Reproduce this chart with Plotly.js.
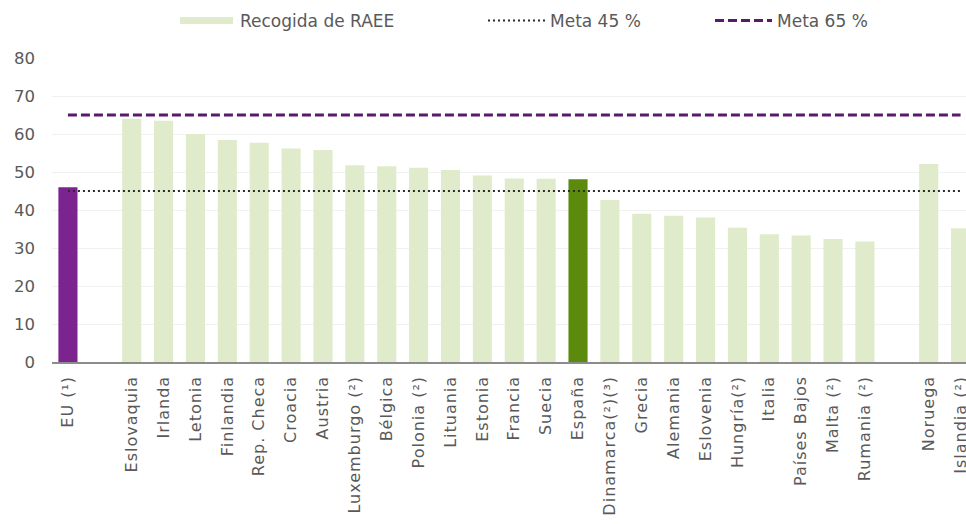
<!DOCTYPE html>
<html>
<head>
<meta charset="utf-8">
<script src="https://cdn.plot.ly/plotly-3.0.1.min.js"></script>
<style>
html,body{margin:0;padding:0;background:#fff;}
#chart{width:966px;height:524px;}
#chart .xtick text{letter-spacing:1px;}
</style>
</head>
<body>
<div id="chart"></div>
<script>
// ---- data ----
const categories = ["EU (¹)", " ", "Eslovaquia", "Irlanda", "Letonia", "Finlandia", "Rep. Checa", "Croacia", "Austria",
  "Luxemburgo (²)", "Bélgica", "Polonia (²)", "Lituania", "Estonia", "Francia", "Suecia", "España",
  "Dinamarca(²)(³)", "Grecia", "Alemania", "Eslovenia", "Hungría(²)", "Italia", "Países Bajos", "Malta (²)",
  "Rumania (²)", "  ", "Noruega", "Islandia (²)"];
const recogida = [46, null, 64, 63.5, 60, 58.4, 57.7, 56.2, 55.8,
  51.8, 51.5, 51.1, 50.5, 49.1, 48.3, 48.2, 48.1,
  42.6, 39, 38.5, 38, 35.3, 33.6, 33.3, 32.4,
  31.7, null, 52.1, 35.2];
const meta45 = [45, 45];
const meta65 = [65, 65];
const seriesNames = ["Recogida de RAEE", "Meta 45 %", "Meta 65 %"];
const yTicks = [0, 10, 20, 30, 40, 50, 60, 70, 80];

// ---- styling ----
const FONT = "DejaVu Sans";
const TXT = "#595959";
const LIGHT = "#e0ebcb";
const barColors = categories.map(c => c.startsWith("EU") ? "#7b2490" : (c === "España" ? "#5b8a0c" : LIGHT));
const lineX = [categories[0], categories[categories.length - 1]];

const W = 966, H = 524, ML = 52, MR = 0, MT = 58, MB = 162;
const px2x = p => (p - ML) / (W - ML - MR);
const py2y = p => (H - MB - p) / (H - MT - MB);

const traces = [
  {type: "bar", x: categories, y: recogida, width: 0.6, marker: {color: barColors}, showlegend: false, hoverinfo: "x+y"},
  {type: "scatter", mode: "lines", x: lineX, y: meta45, line: {color: "#2b2b2b", width: 2, dash: "2px,3px"}, showlegend: false},
  {type: "scatter", mode: "lines", x: lineX, y: meta65, line: {color: "#5a1a6c", width: 3, dash: "9px,4px"}, showlegend: false}
];

const ly = py2y(20.5);
const shapes = [
  {type: "rect", xref: "paper", yref: "paper", x0: px2x(180), x1: px2x(233), y0: py2y(24), y1: py2y(17), fillcolor: LIGHT, line: {width: 0}},
  {type: "line", xref: "paper", yref: "paper", x0: px2x(488), x1: px2x(545), y0: ly, y1: ly, line: {color: "#2b2b2b", width: 2, dash: "2px,3px"}},
  {type: "line", xref: "paper", yref: "paper", x0: px2x(715), x1: px2x(772), y0: ly, y1: ly, line: {color: "#5a1a6c", width: 3, dash: "9px,4px"}}
];
const legendX = [238, 548, 775];
const annotations = seriesNames.map((n, i) => ({
  xref: "paper", yref: "paper", x: px2x(legendX[i]), y: ly, xanchor: "left", yanchor: "middle",
  text: n, showarrow: false, font: {family: FONT, size: 17, color: TXT}
}));

const layout = {
  width: W, height: H,
  margin: {l: ML, r: MR, t: MT, b: MB, pad: 0},
  paper_bgcolor: "#fff", plot_bgcolor: "#fff",
  font: {family: FONT, size: 16, color: TXT},
  showlegend: false,
  xaxis: {
    type: "category", categoryorder: "array", categoryarray: categories,
    range: [-0.5, 28.17], tickangle: -90, ticks: "", showgrid: false, zeroline: false,
    showline: true, linecolor: "#8c8c8c", linewidth: 1.5,
    tickfont: {family: FONT, size: 16, color: TXT}, ticklabelstandoff: 6, fixedrange: true
  },
  yaxis: {
    range: [0, 80], tickvals: yTicks, ticktext: yTicks.map(String), showgrid: true, gridcolor: "#f1f1f1",
    zeroline: false, showline: false, ticks: "", tickfont: {family: FONT, size: 16.5, color: TXT},
    ticklabelstandoff: 16, fixedrange: true
  },
  shapes: shapes,
  annotations: annotations
};

Plotly.newPlot("chart", traces, layout, {displayModeBar: false, staticPlot: true});
</script>
</body>
</html>
